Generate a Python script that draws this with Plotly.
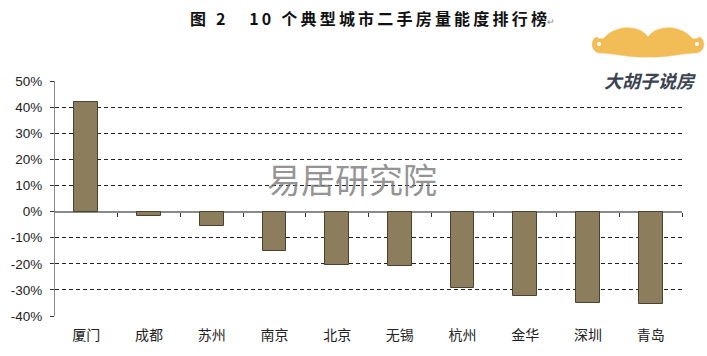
import plotly.graph_objects as go

cities = ["厦门", "成都", "苏州", "南京", "北京", "无锡", "杭州", "金华", "深圳", "青岛"]
values = [42.0, -1.6, -5.7, -15.2, -20.6, -21.0, -29.2, -32.5, -34.9, -35.4]
y_ticks = [50, 40, 30, 20, 10, 0, -10, -20, -30, -40]
y_labels = [f"{v}%" for v in y_ticks]
title_text = "图 2   10 个典型城市二手房量能度排行榜"
watermark = "易居研究院"
logo_text = "大胡子说房"

W, H = 707, 356
L, R, T, B = 55, 25, 81, 40
PW, PH = W - L - R, H - T - B


def px(X):
    return (X - L) / PW


def py(Y):
    return (H - B - Y) / PH


idx = list(range(len(cities)))

fig = go.Figure()
fig.add_trace(go.Bar(
    x=idx, y=values, width=0.38,
    marker=dict(color="#8c7e5c", line=dict(color="#4a4230", width=1)),
    hoverinfo="skip",
))
fig.add_trace(go.Scatter(x=[idx[0]], y=[0], xaxis="x2", mode="markers",
                         marker=dict(opacity=0), hoverinfo="skip", showlegend=False))

ymin, ymax = y_ticks[-1], y_ticks[0]
fig.update_layout(
    width=W, height=H,
    margin=dict(l=L, r=R, t=T, b=B, pad=0, autoexpand=False),
    paper_bgcolor="white", plot_bgcolor="white",
    showlegend=False,
    bargap=0,
    xaxis=dict(
        range=[-0.5, len(cities) - 0.5],
        tickmode="array", tickvals=idx, ticktext=cities,
        showgrid=False, zeroline=False, showline=False, ticks="",
        ticklabelstandoff=9,
        tickfont=dict(family="Noto Sans CJK SC", size=14, color="#222"),
        fixedrange=True, automargin=False,
    ),
    xaxis2=dict(
        overlaying="x", anchor="free", position=(0 - ymin) / (ymax - ymin),
        range=[-0.5, len(cities) - 0.5],
        tickmode="array", tickvals=[i + 0.5 for i in idx],
        showticklabels=False, ticks="outside", ticklen=4, tickcolor="#333",
        tickwidth=1, showline=False, showgrid=False, zeroline=False,
    ),
    yaxis=dict(
        range=[ymin, ymax],
        tickmode="array", tickvals=y_ticks, ticktext=y_labels,
        showgrid=True, gridcolor="#222", gridwidth=1, griddash="4px,3px",
        zeroline=True, zerolinecolor="#8a8a8a", zerolinewidth=1.6,
        showline=True, linecolor="#8a8a8a", linewidth=1.2,
        ticks="outside", ticklen=4, tickcolor="#333",
        ticklabelstandoff=5,
        tickfont=dict(family="Liberation Sans", size=13.5, color="#222"),
        fixedrange=True, automargin=False,
    ),
)

# title (thin spaces widen the letter spacing like the original)
spaced = "\u2009".join(title_text)
fig.add_annotation(
    text=f"<b>{spaced}</b><span style='font-size:9px;color:#888'>↵</span>",
    xref="paper", yref="paper", x=px(372), y=py(18),
    xanchor="center", yanchor="middle", showarrow=False,
    font=dict(family="Noto Sans CJK SC", size=16, color="#111"),
)

# watermark
fig.add_annotation(
    text=watermark, xref="paper", yref="paper", x=px(352), y=py(178),
    xanchor="center", yanchor="middle", showarrow=False,
    font=dict(family="Noto Sans CJK SC", size=34, color="rgba(120,120,120,0.8)"),
)

# logo: mustache
cx = 648
right = [(648, 37),
         (653, 30), (662, 27), (673, 28),
         (684, 30), (689, 35), (692, 38),
         (695, 40), (698, 38), (700, 37),
         (707, 42), (704, 54), (694, 53),
         (684, 53), (666, 58), (648, 57)]


def mirror(pts):
    return [(2 * cx - x, y) for x, y in pts]


def to_path(pts):
    s = f"M {px(pts[0][0]):.5f},{py(pts[0][1]):.5f}"
    for i in range(1, len(pts), 3):
        seg = pts[i:i + 3]
        s += " C " + " ".join(f"{px(x):.5f},{py(y):.5f}" for x, y in seg)
    return s + " Z"


path = to_path(right) + " " + to_path(mirror(right))
fig.add_shape(type="path", xref="paper", yref="paper", path=path,
              fillcolor="#f2bd57", line=dict(color="#f2bd57", width=0.5), layer="above")
for hx in (697, 2 * cx - 697):
    fig.add_shape(type="circle", xref="paper", yref="paper",
                  x0=px(hx - 2), x1=px(hx + 2), y0=py(42), y1=py(46),
                  fillcolor="white", line=dict(width=0), layer="above")

fig.add_annotation(
    text=f"<b><i>{logo_text}</i></b>", xref="paper", yref="paper", x=px(650), y=py(80),
    xanchor="center", yanchor="middle", showarrow=False,
    font=dict(family="Noto Sans CJK SC", size=18, color="#3b4350"),
    bgcolor="white",
)

fig.write_html("out.html", config={"displayModeBar": False},
               post_script="document.body.style.margin='0px';")
